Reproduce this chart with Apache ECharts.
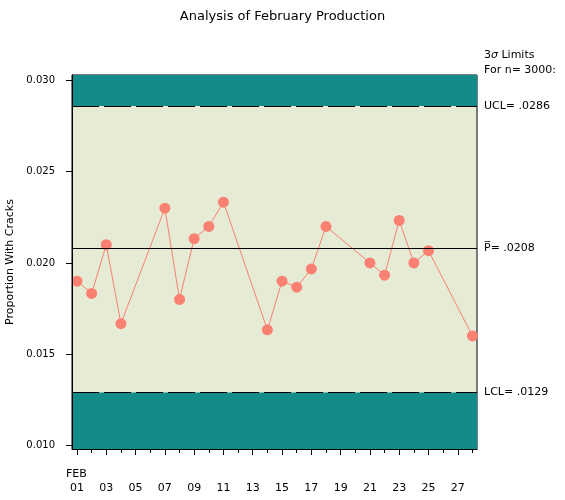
<!DOCTYPE html>
<html>
<head>
<meta charset="utf-8">
<script src="https://cdn.jsdelivr.net/npm/echarts@6/dist/echarts.min.js"></script>
<style>html,body{margin:0;padding:0;background:#fff}#c{width:565px;height:500px}</style>
</head>
<body>
<div id="c"></div>
<script>
// ---- data ----
var days = [1, 2, 3, 4, 7, 8, 9, 10, 11, 14, 15, 16, 17, 18, 21, 22, 23, 24, 25, 28];
var proportions = [0.01900, 0.01833, 0.02100, 0.01667, 0.02300, 0.01800, 0.02133, 0.02200, 0.02333, 0.01633,
                   0.01900, 0.01867, 0.01967, 0.02200, 0.02000, 0.01933, 0.02233, 0.02000, 0.02067, 0.01600];
var UCL = 0.0286, PBAR = 0.0208, LCL = 0.0129;
var yTicks = [0.010, 0.015, 0.020, 0.025, 0.030];
var xLabelDays = [1, 3, 5, 7, 9, 11, 13, 15, 17, 19, 21, 23, 25, 27];
var xMinorDays = [2, 4, 6, 8, 10, 12, 14, 16, 18, 20, 22, 24, 26, 28];
var monthLabel = 'FEB';
var titleText = 'Analysis of February Production';
var yName = 'Proportion With Cracks';
var Y_MIN = 0.0098, Y_MAX = 0.0303, X_MIN = 0.66, X_MAX = 28.31;

var FONT = 'DejaVu Sans';
var TEAL = '#138C89', BEIGE = '#E6EBD6', SALMON = '#FA8072';

var chart = echarts.init(document.getElementById('c'));
var pts = days.map(function (d, i) { return [d, proportions[i]]; });

function hLine(v, type, text) {
  return [
    { coord: [X_MIN, v], lineStyle: { color: '#000', width: 1, type: type }, label: { formatter: text } },
    { coord: [X_MAX, v] }
  ];
}

chart.setOption({
  animation: false,
  backgroundColor: '#fff',
  title: {
    text: titleText, left: 'center', top: 5,
    textStyle: { fontFamily: FONT, fontSize: 13, fontWeight: 'normal', color: '#000' }
  },
  grid: {
    left: 72, right: 88, top: 75, bottom: 51,
    outerBoundsMode: 'none', containLabel: false,
    show: true, backgroundColor: BEIGE, borderColor: '#000', borderWidth: 1
  },
  graphic: [
    { type: 'text', left: 66, top: 469, style: { text: monthLabel, font: '11px "DejaVu Sans"', fill: '#000' } },
    { type: 'text', left: 484, top: 50, style: {
        text: '3{s|σ} Limits', font: '11px "DejaVu Sans"', fill: '#000',
        rich: { s: { fontFamily: FONT, fontSize: 11, fontStyle: 'italic', fill: '#000' } } } },
    { type: 'text', left: 484, top: 65, style: { text: 'For n= 3000:', font: '11px "DejaVu Sans"', fill: '#000' } }
  ],
  xAxis: [{
    type: 'value', min: X_MIN, max: X_MAX, position: 'bottom', z: 10,
    splitLine: { show: false },
    axisLine: { show: true, lineStyle: { color: '#000', width: 1 } },
    axisTick: { show: true, length: 6, customValues: xLabelDays, lineStyle: { color: '#000' } },
    axisLabel: {
      show: true, customValues: xLabelDays, margin: 34, color: '#000',
      fontFamily: FONT, fontSize: 11,
      formatter: function (v) { var n = Math.round(v); return (n < 10 ? '0' : '') + n; }
    }
  }, {
    type: 'value', min: X_MIN, max: X_MAX, position: 'bottom', z: 10,
    splitLine: { show: false },
    axisLine: { show: false },
    axisTick: { show: true, length: 4, customValues: xMinorDays, lineStyle: { color: '#000' } },
    axisLabel: { show: false }
  }],
  yAxis: {
    type: 'value', min: Y_MIN, max: Y_MAX, z: 10,
    name: yName, nameLocation: 'middle', nameGap: 49, nameRotate: 90,
    nameTextStyle: { fontFamily: FONT, fontSize: 11, color: '#000' },
    splitLine: { show: false },
    axisLine: { show: true, lineStyle: { color: '#000', width: 1 } },
    axisTick: { show: true, length: 6, customValues: yTicks, lineStyle: { color: '#000' } },
    axisLabel: {
      show: true, customValues: yTicks, margin: 17, color: '#000',
      fontFamily: FONT, fontSize: 10,
      formatter: function (v) { return v.toFixed(3); }
    }
  },
  series: [{
    type: 'line', data: pts, z: 3, xAxisIndex: 0, yAxisIndex: 0,
    symbol: 'circle', symbolSize: 11,
    itemStyle: { color: SALMON },
    lineStyle: { color: SALMON, width: 1 },
    markArea: {
      silent: true,
      itemStyle: { color: TEAL },
      data: [
        [{ coord: [X_MIN, UCL] }, { coord: [X_MAX, Y_MAX] }],
        [{ coord: [X_MIN, Y_MIN] }, { coord: [X_MAX, LCL] }]
      ]
    },
    markLine: {
      silent: true, symbol: 'none',
      label: { show: true, position: 'end', distance: 7, color: '#000', fontFamily: FONT, fontSize: 11, padding: [4, 0, 0, 0] },
      data: [
        hLine(UCL, [27, 5], 'UCL= .0286'),
        hLine(PBAR, 'solid', 'P\u0305= .0208'),
        hLine(LCL, [27, 5], 'LCL= .0129')
      ]
    }
  }]
});
</script>
</body>
</html>
